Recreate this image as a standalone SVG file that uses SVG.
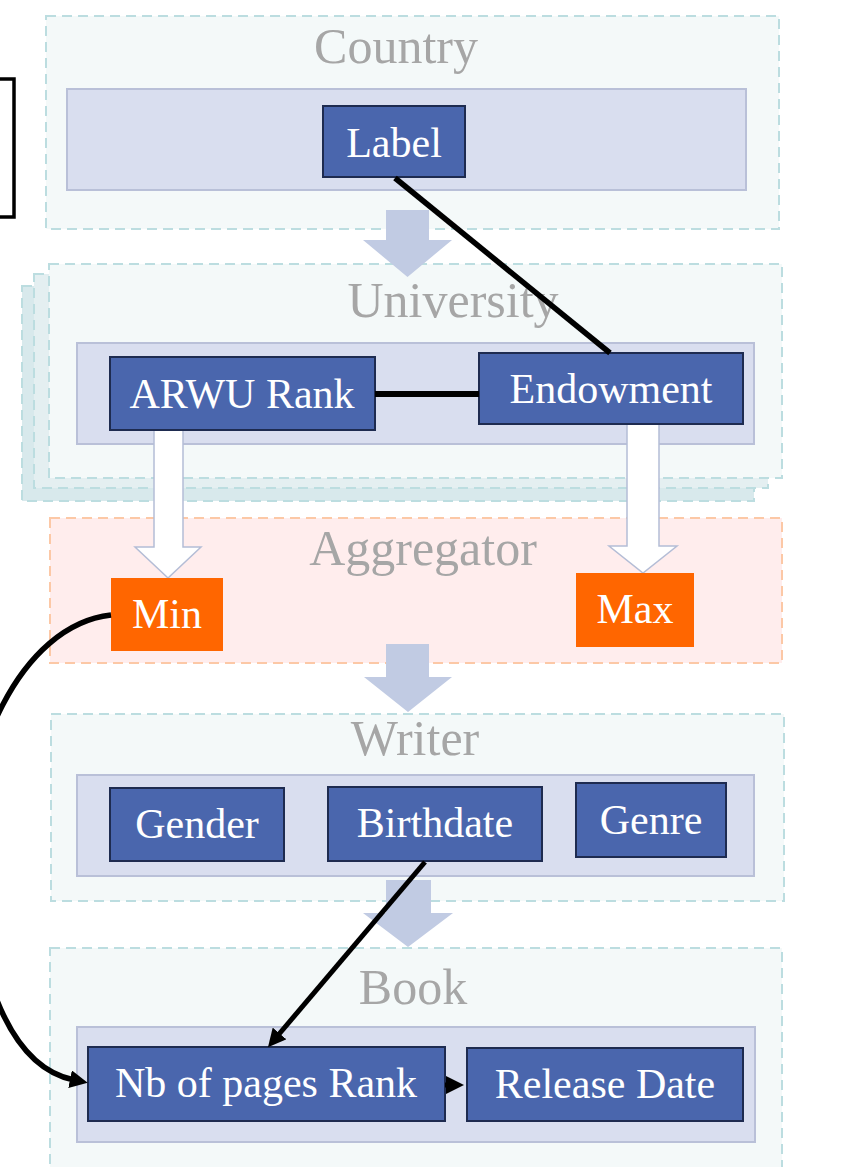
<svg xmlns="http://www.w3.org/2000/svg" width="846" height="1167" viewBox="0 0 846 1167">
<defs>
<style>
.cont{fill:#f4f9f9;stroke:#bcdde0;stroke-width:2;stroke-dasharray:10 6}
.agg{fill:#ffeded;stroke:#fcc8a6;stroke-width:2;stroke-dasharray:10 6}
.band{fill:#d9deef;stroke:#b9c0d8;stroke-width:2}
.node{fill:#4a66ad;stroke:#1e2b50;stroke-width:2}
.onode{fill:#ff6600}
.title{font-family:"Liberation Serif",serif;font-size:50px;fill:#a6a6a6;text-anchor:middle}
.lbl{font-family:"Liberation Serif",serif;font-size:42px;fill:#ffffff;text-anchor:middle}
.big{fill:#c1cbe3}
.warr{fill:#ffffff;stroke:#b4bdd6;stroke-width:1.5}
.conn{fill:none;stroke:#000000;stroke-width:5.5}
</style>
<marker id="ah" markerUnits="userSpaceOnUse" markerWidth="20" markerHeight="18" refX="4" refY="9" orient="auto">
<path d="M0,0 L18,9 L0,18 z" fill="#000000"/>
</marker>
</defs>
<rect x="0" y="0" width="846" height="1167" fill="#ffffff"/>

<g id="frame-left">
<rect x="-10" y="79" width="24" height="138" fill="none" stroke="#000000" stroke-width="3.5"/>
</g>

<g id="country">
<rect class="cont" x="46" y="16" width="733" height="213"/>
<text class="title" x="396" y="63">Country</text>
</g>

<g id="university">
<rect class="cont" x="22" y="286" width="732" height="215" style="fill:#d8e9ec"/>
<rect class="cont" x="34" y="274" width="734" height="214" style="fill:#e4eff1"/>
<rect class="cont" x="49" y="264" width="733" height="214"/>
<text class="title" x="453" y="317">University</text>
</g>

<g id="aggregator">
<rect class="agg" x="50" y="518" width="732" height="145"/>
<text class="title" x="423" y="565">Aggregator</text>
</g>

<g id="writer">
<rect class="cont" x="51" y="714" width="733" height="187"/>
<text class="title" x="415" y="755">Writer</text>
</g>

<g id="book">
<rect class="cont" x="50" y="948" width="732" height="240"/>
<text class="title" x="413" y="1004">Book</text>
</g>

<g id="flow-arrows">
<polygon class="big" points="386,210 429,210 429,240 452,240 407.5,277 363,240 386,240"/>
<polygon class="big" points="386,644 429,644 429,677 452,677 408,712 364,677 386,677"/>
<polygon class="big" points="386,880 431,880 431,913 453,913 408,947 363,913 386,913"/>
</g>

<g id="bands">
<rect class="band" x="67" y="89" width="679" height="101"/>
<rect class="band" x="77" y="343" width="677" height="101"/>
<rect class="band" x="77" y="775" width="677" height="101"/>
<rect class="band" x="77" y="1027" width="678" height="115"/>
</g>

<g id="agg-arrows">
<polygon class="warr" points="154,430 183,430 183,547 201,547 168,578 135,547 154,547"/>
<polygon class="warr" points="627,424 659,424 659,546 677,546 643,573 609,546 627,546"/>
</g>

<g id="node-label">
<rect class="node" x="323" y="106" width="142" height="71"/>
<text class="lbl" x="394" y="157">Label</text>
</g>
<g id="node-arwu">
<rect class="node" x="110" y="357" width="265" height="73"/>
<text class="lbl" x="242" y="408">ARWU Rank</text>
</g>
<g id="node-endowment">
<rect class="node" x="479" y="353" width="264" height="71"/>
<text class="lbl" x="611" y="403">Endowment</text>
</g>
<g id="node-min">
<rect class="onode" x="111" y="578" width="112" height="73"/>
<text class="lbl" x="167" y="628">Min</text>
</g>
<g id="node-max">
<rect class="onode" x="576" y="573" width="118" height="74"/>
<text class="lbl" x="635" y="623">Max</text>
</g>
<g id="node-gender">
<rect class="node" x="110" y="788" width="174" height="73"/>
<text class="lbl" x="197" y="838">Gender</text>
</g>
<g id="node-birthdate">
<rect class="node" x="328" y="787" width="214" height="74"/>
<text class="lbl" x="435" y="837">Birthdate</text>
</g>
<g id="node-genre">
<rect class="node" x="576" y="783" width="150" height="74"/>
<text class="lbl" x="651" y="834">Genre</text>
</g>
<g id="node-nbpages">
<rect class="node" x="88" y="1047" width="357" height="74"/>
<text class="lbl" x="266" y="1097">Nb of pages Rank</text>
</g>
<g id="node-release">
<rect class="node" x="467" y="1048" width="276" height="73"/>
<text class="lbl" x="605" y="1098">Release Date</text>
</g>

<g id="connectors">
<line class="conn" x1="395" y1="178" x2="610" y2="353"/>
<line class="conn" x1="375" y1="394" x2="479" y2="394" style="stroke-width:6"/>
<path class="conn" d="M111,615 C20,625 -40,760 -30,870 C-20,990 15,1068 74,1080" marker-end="url(#ah)"/>
<line class="conn" x1="425" y1="862" x2="277" y2="1036.5" style="stroke-width:5" marker-end="url(#ah)"/>
<line class="conn" x1="445" y1="1085" x2="450" y2="1085" style="stroke-width:5" marker-end="url(#ah)"/>
</g>
</svg>
